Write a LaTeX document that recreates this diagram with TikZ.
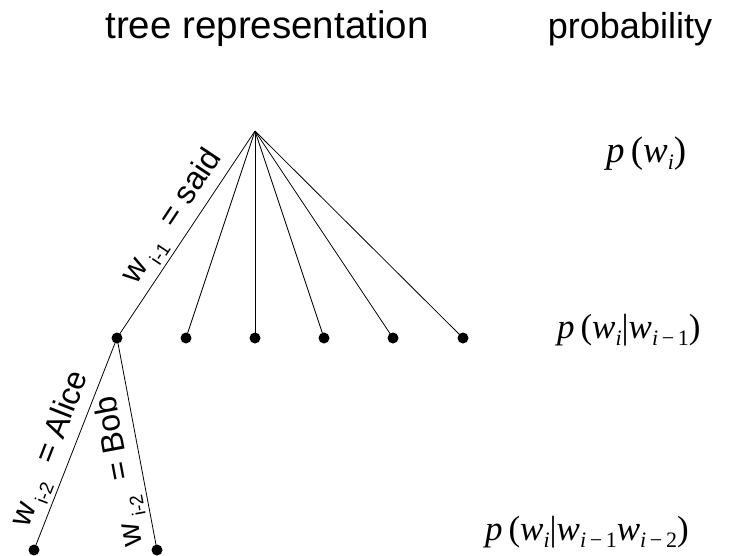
\documentclass[tikz,border=0pt]{standalone}
\usepackage{fontspec}
\setmainfont{Liberation Sans}
\newfontfamily\tms{Liberation Serif}
\newcommand\msub[1]{\raisebox{-0.45ex}{\fontsize{22}{22}\selectfont #1}}
\newcommand\lsub[1]{\raisebox{-0.5ex}{\fontsize{19}{19}\selectfont #1}}
\begin{document}
\begin{tikzpicture}[x=1pt,y=-1pt,
  dot/.style={circle,fill=black,inner sep=0pt,minimum size=11pt},
  edge/.style={line width=0.8pt},
  title/.style={anchor=base},
  lbl/.style={font=\fontsize{32}{32}\selectfont,sloped,above,inner sep=4pt},
  prob/.style={font=\tms\fontsize{35}{35}\selectfont,anchor=base west,inner sep=0pt}]
\useasboundingbox (0,0) rectangle (731,555);
\node[title,font=\fontsize{38.5}{38.5}\selectfont] (t1) at (267,38) {tree representation};
\node[title,font=\fontsize{36}{36}\selectfont] (t2) at (630,38) {probability};
\coordinate (r) at (255,131);
\node[dot] (a1) at (117,338) {};
\node[dot] (a2) at (186,338) {};
\node[dot] (a3) at (255,338) {};
\node[dot] (a4) at (324,338) {};
\node[dot] (a5) at (393,338) {};
\node[dot] (a6) at (463,338) {};
\node[dot] (b1) at (34,550) {};
\node[dot] (b2) at (157,550) {};
\draw[edge] (a1.center) -- node[lbl,pos=0.53] {w\,\lsub{i-1}\ \ = said} (r);
\foreach \n in {a2,a3,a4,a5,a6} \draw[edge] (r) -- (\n.center);
\draw[edge] (b1.center) -- node[lbl,pos=0.44] {w\,\lsub{i-2}\ \ = Alice} (a1.center);
\draw[edge] (b2.center) -- node[lbl,allow upside down,pos=0.39] {w\,\lsub{i-2}\ \ = Bob} (a1.center);
\node[prob,font=\tms\fontsize{37}{37}\selectfont] (p1) at (606,162) {\textit{p}\,(\textit{w}\msub{\textit{i}})};
\node[prob] (p2) at (557,338) {\textit{p}\,(\textit{w}\msub{\textit{i}}|\textit{w}\msub{\textit{i}\,−\,1})};
\node[prob] (p3) at (485,540) {\textit{p}\,(\textit{w}\msub{\textit{i}}|\textit{w}\msub{\textit{i}\,−\,1}\textit{w}\msub{\textit{i}\,−\,2})};
\end{tikzpicture}
\end{document}
